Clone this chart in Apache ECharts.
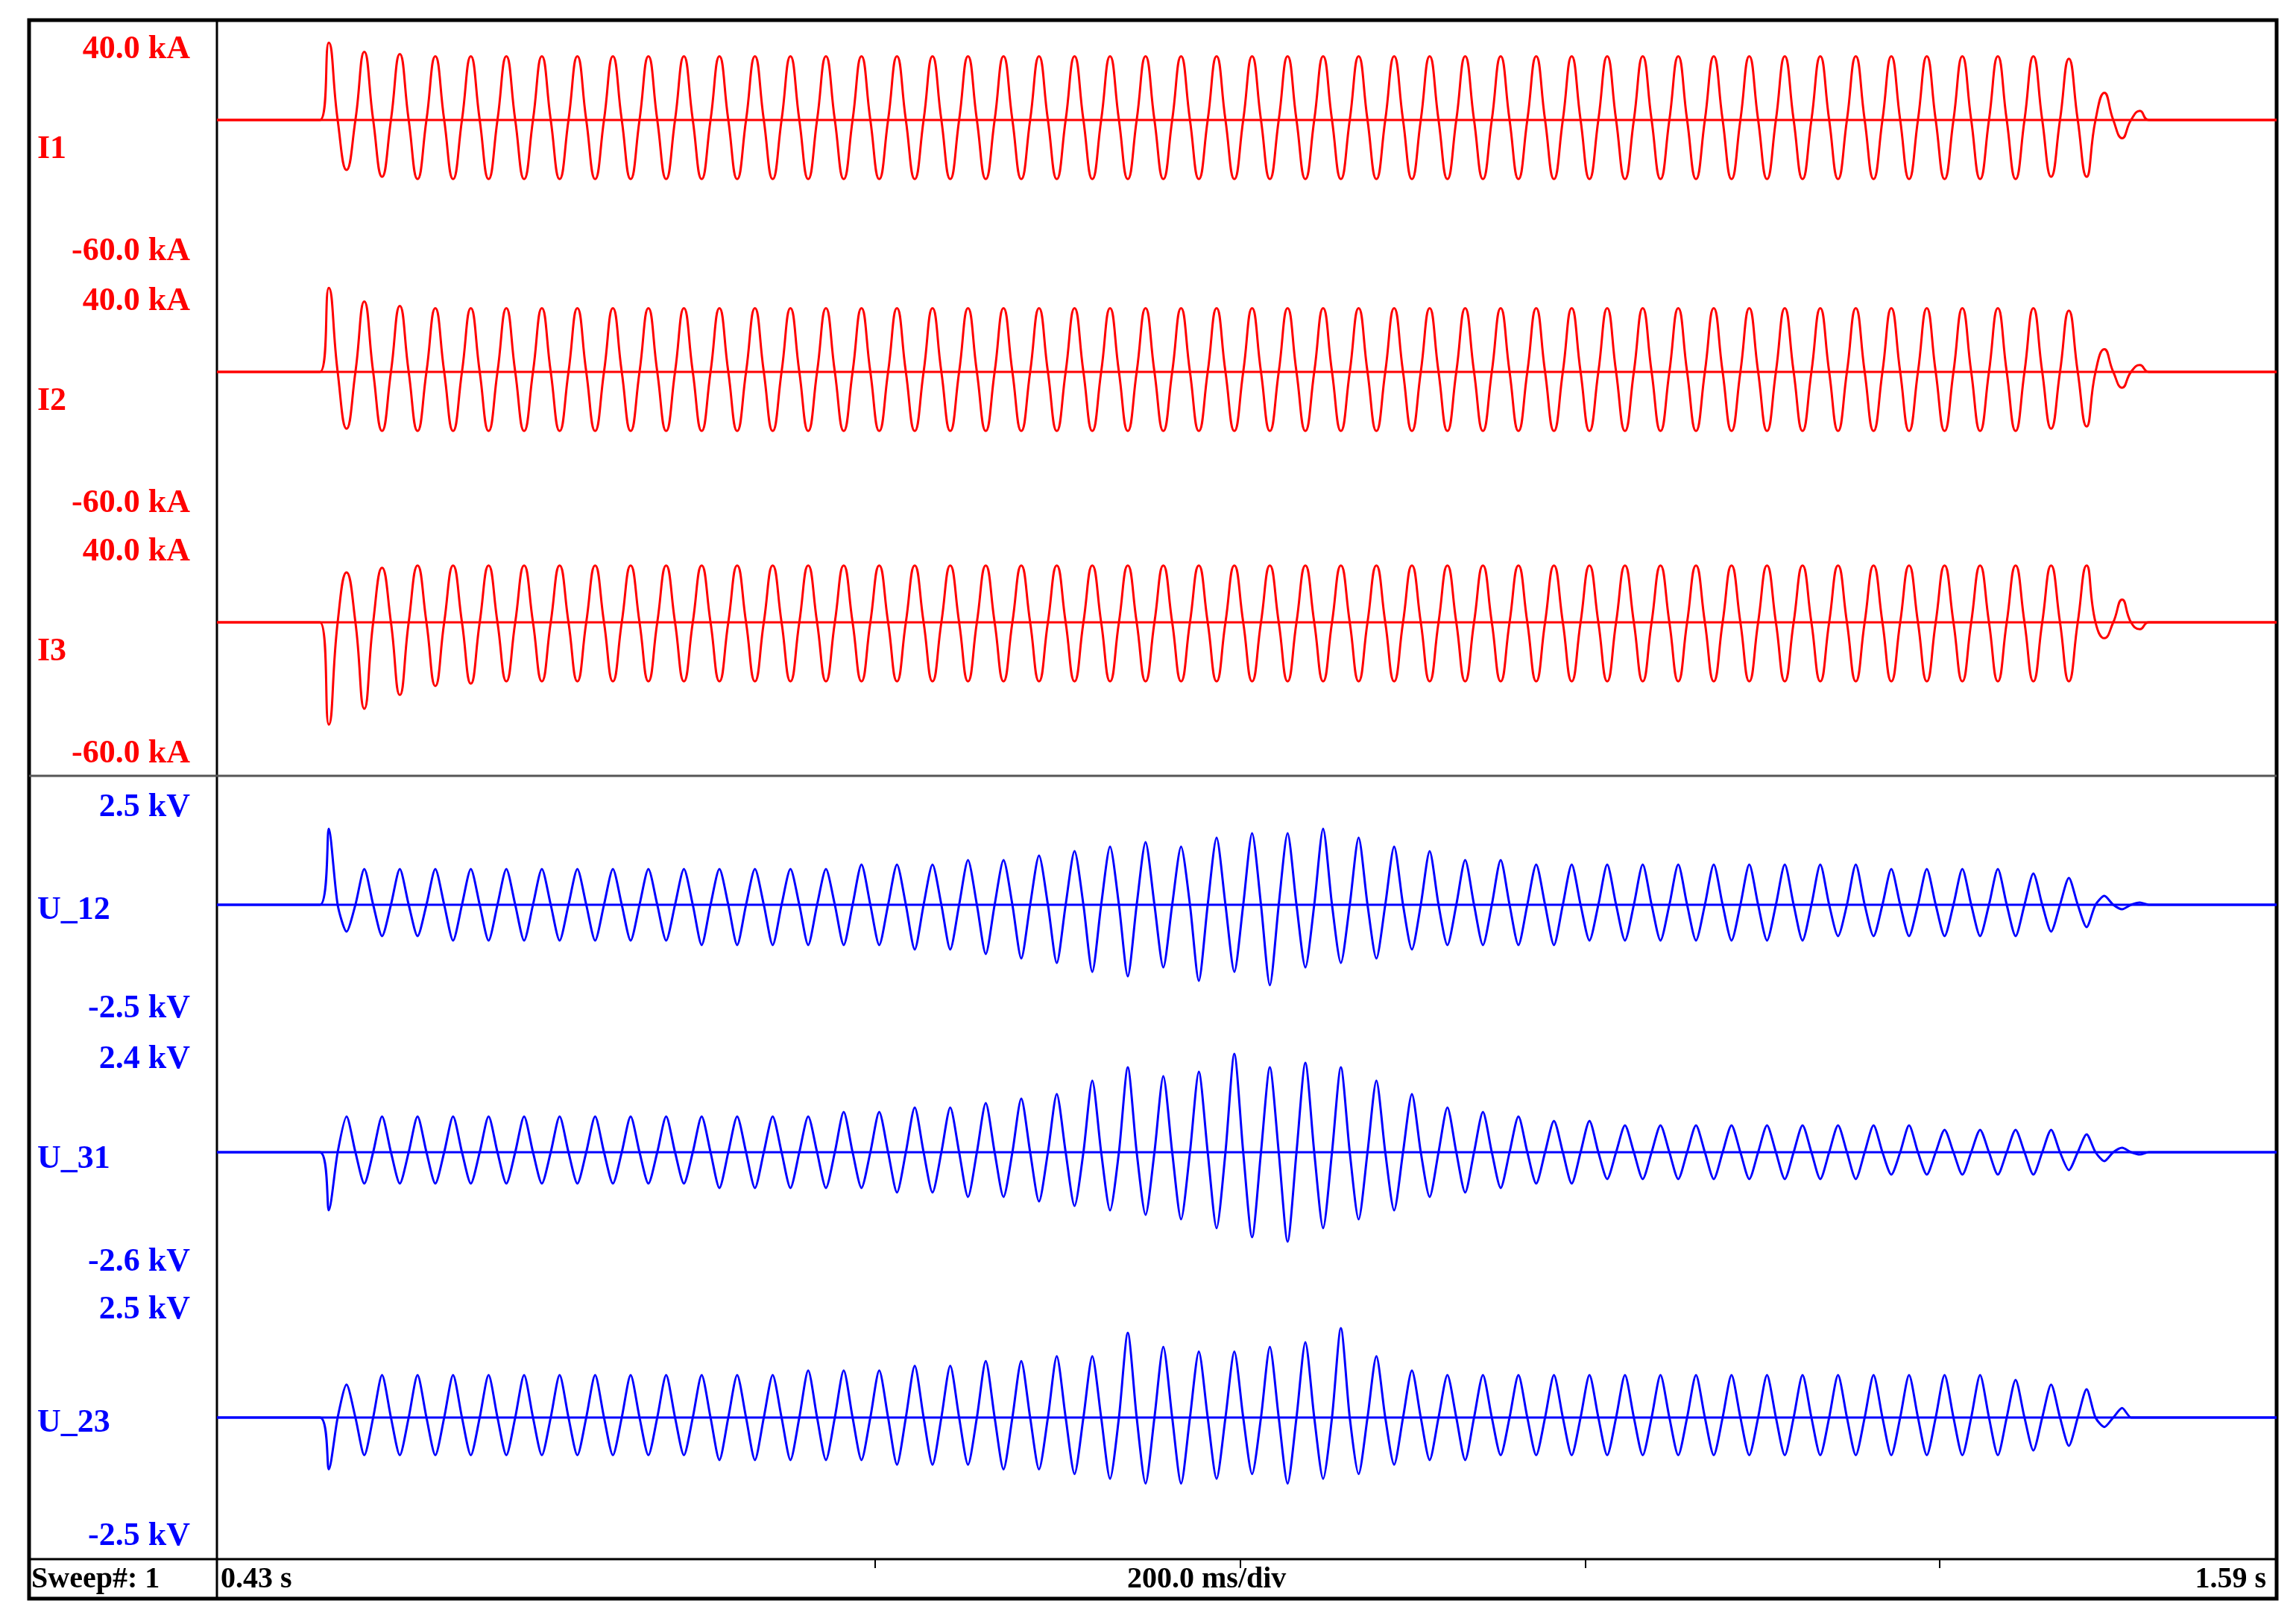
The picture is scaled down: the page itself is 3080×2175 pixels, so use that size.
<!DOCTYPE html>
<html>
<head>
<meta charset="utf-8">
<script src="https://cdn.jsdelivr.net/npm/echarts@6/dist/echarts.min.js"></script>
<style>html,body{margin:0;padding:0;background:#fff}#chart{width:3080px;height:2175px}</style>
</head>
<body>
<div id="chart"></div>
<script>
// time axis (s)
var tMin = 0.43, tMax = 1.59;
var tStart = 0.488;      // fault start
var halfCycle = 0.01;    // 50 Hz

// half-cycle peak values
var i1Peaks = [34,-22,30,-25,29,-26,28,-26,28,-26, 28,-26,28,-26,28,-26,28,-26,28,-26,
  28,-26,28,-26,28,-26,28,-26,28,-26, 28,-26,28,-26,28,-26,28,-26,28,-26,
  28,-26,28,-26,28,-26,28,-26,28,-26, 28,-26,28,-26,28,-26,28,-26,28,-26,
  28,-26,28,-26,28,-26,28,-26,28,-26, 28,-26,28,-26,28,-26,28,-26,28,-26,
  28,-26,28,-26,28,-26,28,-26,28,-26, 28,-26,28,-26,28,-26,28,-25,27,-25, 12,-8,4];
var i2Peaks = [37,-25,31,-26,29,-26,28,-26,28,-26, 28,-26,28,-26,28,-26,28,-26,28,-26,
  28,-26,28,-26,28,-26,28,-26,28,-26, 28,-26,28,-26,28,-26,28,-26,28,-26,
  28,-26,28,-26,28,-26,28,-26,28,-26, 28,-26,28,-26,28,-26,28,-26,28,-26,
  28,-26,28,-26,28,-26,28,-26,28,-26, 28,-26,28,-26,28,-26,28,-26,28,-26,
  28,-26,28,-26,28,-26,28,-26,28,-26, 28,-26,28,-26,28,-26,28,-25,27,-24, 10,-7,3];
var i3Peaks = [-45,22,-38,24,-32,25,-28,25,-27,25, -26,25,-26,25,-26,25,-26,25,-26,25,
  -26,25,-26,25,-26,25,-26,25,-26,25, -26,25,-26,25,-26,25,-26,25,-26,25,
  -26,25,-26,25,-26,25,-26,25,-26,25, -26,25,-26,25,-26,25,-26,25,-26,25,
  -26,25,-26,25,-26,25,-26,25,-26,25, -26,25,-26,25,-26,25,-26,25,-26,25,
  -26,25,-26,25,-26,25,-26,25,-26,25, -26,25,-26,25,-26,25,-26,25,-26,25, -7,10,-3];
var u12Peaks = [1.7,-0.6,0.8,-0.7,0.8,-0.7,0.8,-0.8,0.8,-0.8, 0.8,-0.8,0.8,-0.8,0.8,-0.8,0.8,-0.8,0.8,-0.8,
  0.8,-0.9,0.8,-0.9,0.8,-0.9,0.8,-0.9,0.8,-0.9, 0.9,-0.9,0.9,-1.0,0.9,-1.0,1.0,-1.1,1.0,-1.2,
  1.1,-1.3,1.2,-1.5,1.3,-1.6,1.4,-1.4,1.3,-1.7, 1.5,-1.5,1.6,-1.8,1.6,-1.4,1.7,-1.3,1.5,-1.2,
  1.3,-1.0,1.2,-0.9,1.0,-0.9,1.0,-0.9,0.9,-0.9, 0.9,-0.8,0.9,-0.8,0.9,-0.8,0.9,-0.8,0.9,-0.8,
  0.9,-0.8,0.9,-0.8,0.9,-0.7,0.9,-0.7,0.8,-0.7, 0.8,-0.7,0.8,-0.7,0.8,-0.7,0.7,-0.6,0.6,-0.5, 0.2,-0.1,0.05];
var u31Peaks = [-1.3,0.8,-0.7,0.8,-0.7,0.8,-0.7,0.8,-0.7,0.8, -0.7,0.8,-0.7,0.8,-0.7,0.8,-0.7,0.8,-0.7,0.8,
  -0.7,0.8,-0.8,0.8,-0.8,0.8,-0.8,0.8,-0.8,0.9, -0.8,0.9,-0.9,1.0,-0.9,1.0,-1.0,1.1,-1.0,1.2,
  -1.1,1.3,-1.2,1.6,-1.3,1.9,-1.4,1.7,-1.5,1.8, -1.7,2.2,-1.9,1.9,-2.0,2.0,-1.7,1.9,-1.5,1.6,
  -1.3,1.3,-1.0,1.0,-0.9,0.9,-0.8,0.8,-0.7,0.7, -0.7,0.7,-0.6,0.6,-0.6,0.6,-0.6,0.6,-0.6,0.6,
  -0.6,0.6,-0.6,0.6,-0.6,0.6,-0.6,0.6,-0.5,0.6, -0.5,0.5,-0.5,0.5,-0.5,0.5,-0.5,0.5,-0.4,0.4, -0.2,0.1,-0.05];
var u23Peaks = [-1.1,0.7,-0.8,0.9,-0.8,0.9,-0.8,0.9,-0.8,0.9, -0.8,0.9,-0.8,0.9,-0.8,0.9,-0.8,0.9,-0.8,0.9,
  -0.8,0.9,-0.9,0.9,-0.9,0.9,-0.9,1.0,-0.9,1.0, -0.9,1.0,-1.0,1.1,-1.0,1.1,-1.0,1.2,-1.1,1.2,
  -1.1,1.3,-1.2,1.3,-1.3,1.8,-1.4,1.5,-1.4,1.4, -1.3,1.4,-1.2,1.5,-1.4,1.6,-1.3,1.9,-1.2,1.3,
  -1.0,1.0,-0.9,0.9,-0.9,0.9,-0.8,0.9,-0.8,0.9, -0.8,0.9,-0.8,0.9,-0.8,0.9,-0.8,0.9,-0.8,0.9,
  -0.8,0.9,-0.8,0.9,-0.8,0.9,-0.8,0.9,-0.8,0.9, -0.8,0.9,-0.8,0.9,-0.8,0.8,-0.7,0.7,-0.6,0.6, -0.2,0.2,0];

var channels = [
  {name: 'I1', peaks: i1Peaks, max: 40, min: -60, top: 39, h: 305, color: '#ff0000', maxLbl: '40.0 kA', minLbl: '-60.0 kA', nameDy: 24, maxDy: 30, minDy: -8},
  {name: 'I2', peaks: i2Peaks, max: 40, min: -60, top: 377, h: 305, color: '#ff0000', maxLbl: '40.0 kA', minLbl: '-60.0 kA', nameDy: 24, maxDy: 30, minDy: -8},
  {name: 'I3', peaks: i3Peaks, max: 40, min: -60, top: 713, h: 305, color: '#ff0000', maxLbl: '40.0 kA', minLbl: '-60.0 kA', nameDy: 24, maxDy: 30, minDy: -8},
  {name: 'U_12', peaks: u12Peaks, max: 2.5, min: -2.5, top: 1064, h: 300, color: '#0000ff', maxLbl: '2.5 kV', minLbl: '-2.5 kV', nameDy: -8, maxDy: 22, minDy: -12},
  {name: 'U_31', peaks: u31Peaks, max: 2.4, min: -2.6, top: 1402, h: 300, color: '#0000ff', maxLbl: '2.4 kV', minLbl: '-2.6 kV', nameDy: -6, maxDy: 22, minDy: -10},
  {name: 'U_23', peaks: u23Peaks, max: 2.5, min: -2.5, top: 1744, h: 316, color: '#0000ff', maxLbl: '2.5 kV', minLbl: '-2.5 kV', nameDy: -8, maxDy: 16, minDy: 0}
];

function wave(peaks) {
  var pts = [[tMin, 0], [tStart, 0]];
  for (var k = 0; k < peaks.length; k++) {
    pts.push([tStart + (k + 0.5) * halfCycle, peaks[k]]);
    pts.push([tStart + (k + 1) * halfCycle, 0]);
  }
  pts.push([tMax, 0]);
  return pts;
}

var L = 291, R = 3054;
var font = 'bold 44px "Liberation Serif"';
var grids = [], xAxes = [], yAxes = [], series = [], graphics = [];

channels.forEach(function (c, i) {
  grids.push({left: L, width: R - L, top: c.top, height: c.h});
  xAxes.push({type: 'value', gridIndex: i, min: tMin, max: tMax, show: false});
  yAxes.push({type: 'value', gridIndex: i, min: c.min, max: c.max, show: false});
  series.push({type: 'line', xAxisIndex: i, yAxisIndex: i, showSymbol: false, silent: true,
    data: [[tMin, 0], [tMax, 0]], lineStyle: {color: c.color, width: 3}});
  series.push({type: 'line', xAxisIndex: i, yAxisIndex: i, showSymbol: false, silent: true,
    smooth: i < 3 ? 0.5 : 0.25, data: wave(c.peaks), lineStyle: {color: c.color, width: 3}});
  var zeroY = c.top + c.h * c.max / (c.max - c.min);
  graphics.push({type: 'text', right: 3080 - 255, top: c.top - 24 + c.maxDy, style: {text: c.maxLbl, font: font, fill: c.color, textAlign: 'right'}});
  graphics.push({type: 'text', right: 3080 - 255, top: c.top + c.h - 20 + c.minDy, style: {text: c.minLbl, font: font, fill: c.color, textAlign: 'right'}});
  graphics.push({type: 'text', left: 50, top: zeroY - 6 + c.nameDy, style: {text: c.name, font: font, fill: c.color}});
});

// frame, divider, bottom strip
graphics.push({type: 'rect', shape: {x: 39, y: 27, width: 3015, height: 2118}, style: {fill: null, stroke: '#000', lineWidth: 5}});
graphics.push({type: 'line', shape: {x1: L, y1: 27, x2: L, y2: 2145}, style: {stroke: '#000', lineWidth: 3}});
graphics.push({type: 'line', shape: {x1: 39, y1: 1041, x2: 3054, y2: 1041}, style: {stroke: '#555', lineWidth: 3}});
graphics.push({type: 'line', shape: {x1: 39, y1: 2092, x2: 3054, y2: 2092}, style: {stroke: '#000', lineWidth: 3}});
[1174, 1664, 2127, 2602].forEach(function (x) {
  graphics.push({type: 'line', shape: {x1: x, y1: 2092, x2: x, y2: 2104}, style: {stroke: '#000', lineWidth: 2}});
});
var small = 'bold 40px "Liberation Serif"';
graphics.push({type: 'text', left: 42, top: 2100, style: {text: 'Sweep#: 1', font: small, fill: '#000'}});
graphics.push({type: 'text', left: 296, top: 2100, style: {text: '0.43 s', font: small, fill: '#000'}});
graphics.push({type: 'text', left: 1512, top: 2100, style: {text: '200.0 ms/div', font: small, fill: '#000'}});
graphics.push({type: 'text', right: 40, top: 2100, style: {text: '1.59 s', font: small, fill: '#000', textAlign: 'right'}});

var chart = echarts.init(document.getElementById('chart'));
chart.setOption({
  backgroundColor: '#fff',
  animation: false,
  grid: grids,
  xAxis: xAxes,
  yAxis: yAxes,
  series: series,
  graphic: graphics
});
</script>
</body>
</html>
